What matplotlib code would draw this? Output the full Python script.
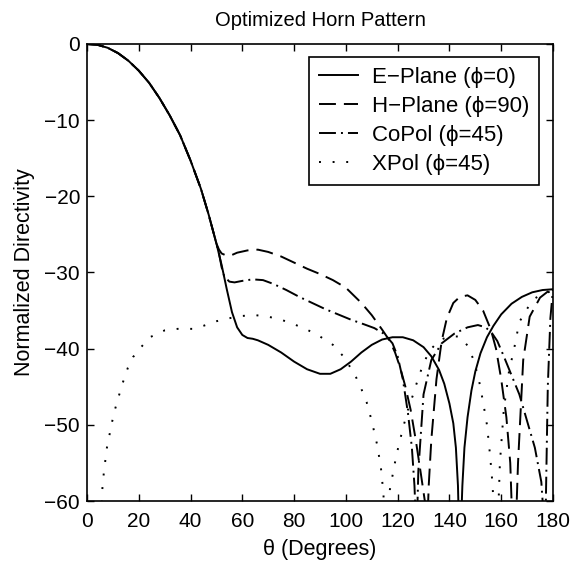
import matplotlib
matplotlib.use("Agg")
import matplotlib.pyplot as plt

plt.rcParams['font.family'] = ['Liberation Sans', 'DejaVu Sans']

# E-plane (phi = 0)
theta_e = [0, 4, 8, 12, 16, 20, 24, 28, 32, 36, 40, 44, 47, 50, 52, 54, 56, 58,
           60, 62, 64, 66, 70, 75, 80, 85, 90, 94, 98, 102, 106, 110, 114, 118,
           122, 126, 130, 133, 136, 138, 140, 141.5, 142.5, 143.3, 143.8, 144.3,
           145, 145.8, 147, 148.5, 150, 152, 154.5, 157, 160, 164, 168, 172, 176, 180]
dir_e = [0, -0.1, -0.5, -1.2, -2.2, -3.5, -5.1, -7.1, -9.4, -12.0, -15.3, -19.0,
         -22.4, -26.2, -29.0, -32.2, -35.2, -37.2, -38.2, -38.6, -38.7, -38.9,
         -39.5, -40.5, -41.7, -42.7, -43.3, -43.3, -42.7, -41.7, -40.5, -39.5,
         -38.8, -38.5, -38.5, -38.9, -39.8, -41.0, -42.8, -44.6, -47.2, -49.8,
         -53.0, -58.0, -65.0, -65.0, -58.0, -53.0, -49.0, -45.5, -43.0, -40.6,
         -38.5, -37.0, -35.5, -34.1, -33.2, -32.6, -32.3, -32.2]

# H-plane (phi = 90)
theta_h = [0, 4, 8, 12, 16, 20, 24, 28, 32, 36, 40, 44, 47, 50, 51, 52, 54, 56,
           58, 62, 66, 70, 75, 80, 85, 90, 95, 100, 103, 106, 110, 114, 117, 119,
           121, 123, 125, 127, 129, 130.5, 131.3, 132, 133, 135, 137, 139, 141.5,
           144, 147, 150, 153, 156, 158, 160, 162, 163.5, 164.5, 165.5, 166.5,
           168.5, 171, 175, 178, 180]
dir_h = [0, -0.1, -0.5, -1.2, -2.2, -3.5, -5.1, -7.1, -9.4, -12.0, -15.3, -19.0,
         -22.4, -26.2, -27.0, -27.5, -27.8, -27.7, -27.4, -27.1, -27.0, -27.3,
         -27.9, -28.7, -29.5, -30.2, -31.0, -32.0, -33.0, -34.0, -35.6, -37.5,
         -39.0, -40.5, -42.5, -45.0, -48.0, -52.0, -56.5, -60.0, -65.0, -58.0,
         -52.0, -44.0, -39.0, -36.0, -34.0, -33.2, -33.0, -33.6, -35.0, -37.5,
         -40.0, -44.0, -49.0, -55.0, -65.0, -65.0, -55.0, -41.5, -35.8, -33.3,
         -32.5, -32.2]

# Co-polar (phi = 45)
theta_co = [0, 4, 8, 12, 16, 20, 24, 28, 32, 36, 40, 44, 47, 50, 51, 52, 53, 55,
            57, 60, 64, 68, 72, 77, 82, 87, 92, 97, 102, 107, 111, 115, 118, 120,
            122, 124, 125.5, 126.5, 127.3, 128, 130, 133, 137, 142, 147, 151, 154,
            156.5, 158.5, 161, 164, 167, 170, 173, 175.5, 177, 178, 179, 180]
dir_co = [0, -0.1, -0.5, -1.2, -2.2, -3.5, -5.1, -7.1, -9.4, -12.0, -15.3, -19.0,
          -22.4, -26.2, -27.5, -29.3, -30.5, -31.2, -31.3, -31.1, -30.9, -31.0,
          -31.5, -32.3, -33.2, -34.0, -34.8, -35.5, -36.2, -36.8, -37.3, -38.1,
          -39.3, -41.0, -44.0, -48.5, -53.0, -58.0, -65.0, -56.0, -46.0, -41.5,
          -39.3, -38.0, -37.2, -36.9, -37.2, -38.0, -39.0, -41.0, -43.5, -46.0,
          -49.5, -53.0, -57.5, -65.0, -45.0, -36.0, -32.2]

# Cross-polar (phi = 45)
theta_x = [5.5, 6, 6.6, 7.7, 9.7, 10.8, 13.5, 15.8, 17.8, 20.9, 24.3, 30, 35, 41,
           45, 50, 55, 60, 65, 70, 75, 80, 85, 90, 95, 99, 102, 104, 106, 108,
           110, 112, 113.5, 114.5, 115.3, 116.3, 117, 119.5, 122, 124, 126, 128.5,
           132, 136, 140, 144, 147, 149.5, 151.5, 153, 154.5, 155.7, 156.7, 157.5,
           158.5, 159.5, 161, 163, 165, 167, 170.5, 173, 176, 180]
dir_x = [-62.0, -58.0, -56.0, -53.0, -49.6, -48.0, -44.8, -42.5, -41.1, -39.8,
         -38.5, -37.6, -37.4, -37.4, -37.0, -36.4, -36.0, -35.7, -35.6, -35.8,
         -36.2, -36.8, -37.5, -38.4, -39.5, -41.0, -42.6, -43.8, -45.3, -47.0,
         -49.5, -52.5, -55.5, -59.0, -65.0, -65.0, -58.5, -54.0, -50.5, -48.0,
         -46.0, -43.3, -40.4, -38.9, -38.4, -38.4, -39.6, -41.6, -44.3, -47.0,
         -50.0, -54.0, -58.0, -65.0, -65.0, -55.0, -48.0, -43.0, -40.0, -36.5,
         -34.5, -33.4, -32.8, -32.4]

labels = ['E\u2212Plane (\u03d5=0)', 'H\u2212Plane (\u03d5=90)',
          'CoPol (\u03d5=45)', 'XPol (\u03d5=45)']

fig = plt.figure(figsize=(5.83, 5.64), dpi=100)
ax = fig.add_axes([0.1492, 0.1117, 0.7993, 0.8103])

lw = 1.4
ax.plot(theta_e, dir_e, color='black', lw=lw, linestyle='-', label=labels[0])
ax.plot(theta_h, dir_h, color='black', lw=lw, linestyle=(0, (8.7, 4.1)), label=labels[1])
ax.plot(theta_co, dir_co, color='black', lw=lw, linestyle=(0, (8.7, 2.6, 1.0, 2.6)),
        label=labels[2])
ax.plot(theta_x, dir_x, color='black', lw=lw, linestyle=(0, (1.0, 6.0)), label=labels[3])

ax.set_xlim(0, 180)
ax.set_ylim(-60, 0)
ax.set_xticks(range(0, 181, 20))
ax.set_yticks(range(-60, 1, 10))
ax.tick_params(direction='in', top=True, right=True, length=5, width=1.0,
               labelsize=15)
ax.tick_params(axis='x', pad=8)
ax.tick_params(axis='y', pad=5)
for s in ax.spines.values():
    s.set_linewidth(1.2)

ax.set_title('Optimized Horn Pattern', fontsize=14.5, pad=13)
ax.set_xlabel('\u03b8 (Degrees)', fontsize=15.5, labelpad=6)
ax.set_ylabel('Normalized Directivity', fontsize=15.5, labelpad=7)

leg = ax.legend(loc='upper right', bbox_to_anchor=(0.970, 0.9716), borderaxespad=0,
                fontsize=16, handlelength=1.75, handletextpad=0.6,
                labelspacing=0.36, borderpad=0.45, fancybox=False, framealpha=1)
leg.get_frame().set_edgecolor('black')
leg.get_frame().set_linewidth(1.2)

fig.savefig('out.png', dpi=100)
